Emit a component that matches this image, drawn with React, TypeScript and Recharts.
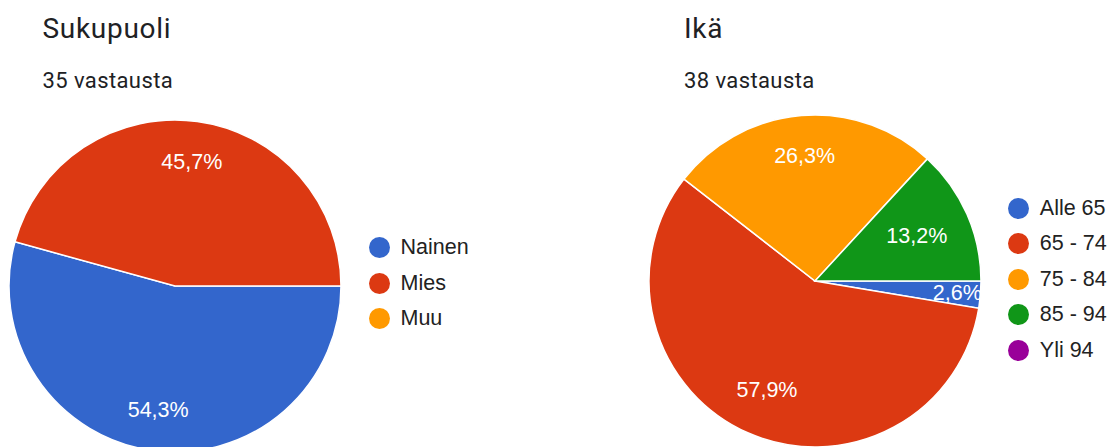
import React from "react";
import { PieChart, Pie, Cell, Legend } from "recharts";

// Sukupuoli (35 vastausta)
const genderNames = ["Nainen", "Mies", "Muu"];
const genderCounts = [19, 16, 0];
const genderColors = ["#3366cc", "#dc3912", "#ff9900"];

// Ikä (38 vastausta)
const ageNames = ["Alle 65", "65 - 74", "75 - 84", "85 - 94", "Yli 94"];
const ageCounts = [1, 22, 10, 5, 0];
const ageColors = ["#3366cc", "#dc3912", "#ff9900", "#109618", "#990099"];

const RAD = Math.PI / 180;
const TITLE_FONT = "Roboto, 'Noto Sans', sans-serif";
const CHART_FONT = "'Liberation Sans', Arial, sans-serif";

// google nudges labels of narrow slices in/out, default is ~3/4 radius
const labelRadius: Record<string, number> = {
  "Alle 65": 0.86,
  "65 - 74": 0.72,
  "85 - 94": 0.67,
};

const formatPercent = (p: number) => `${(p * 100).toFixed(1).replace(".", ",")}%`;

const renderSliceLabel = (props: any) => {
  const { cx, cy, midAngle, outerRadius, percent, name } = props;
  if (!percent) return null;
  const r = outerRadius * (labelRadius[name] ?? 0.755);
  const x = cx + r * Math.cos(-midAngle * RAD);
  const y = cy + r * Math.sin(-midAngle * RAD);
  return (
    <text
      x={x}
      y={y}
      fill="#ffffff"
      textAnchor="middle"
      dominantBaseline="central"
      fontFamily={CHART_FONT}
      fontSize={21.5}
    >
      {formatPercent(percent)}
    </text>
  );
};

interface LegendListProps {
  names: string[];
  colors: string[];
}

const LegendList = ({ names, colors }: LegendListProps) => (
  <div>
    {names.map((name, i) => (
      <div
        key={name}
        style={{ display: "flex", alignItems: "center", height: 35.5 }}
      >
        <span
          style={{
            width: 21,
            height: 21,
            borderRadius: "50%",
            background: colors[i],
            marginRight: 11,
            flexShrink: 0,
          }}
        />
        <span
          style={{
            fontFamily: CHART_FONT,
            fontSize: 21.5,
            color: "#222222",
            whiteSpace: "nowrap",
          }}
        >
          {name}
        </span>
      </div>
    ))}
  </div>
);

interface PiePanelProps {
  title: string;
  subtitle: string;
  names: string[];
  counts: number[];
  colors: string[];
  titleX: number;
  cx: number;
  cy: number;
  legendLeft: number;
  legendTop: number;
}

const PiePanel = ({
  title,
  subtitle,
  names,
  counts,
  colors,
  titleX,
  cx,
  cy,
  legendLeft,
  legendTop,
}: PiePanelProps) => {
  // zero answers get no slice but still show in the legend
  const data = names
    .map((name, i) => ({ name, value: counts[i], color: colors[i] }))
    .filter((d) => d.value > 0);

  return (
    <div style={{ position: "relative", width: 560, height: 447 }}>
      <div
        style={{
          position: "absolute",
          left: titleX,
          top: 14.5,
          fontFamily: TITLE_FONT,
          fontSize: 28,
          lineHeight: "28px",
          letterSpacing: 0.7,
          color: "#202124",
          whiteSpace: "nowrap",
        }}
      >
        {title}
      </div>
      <div
        style={{
          position: "absolute",
          left: titleX,
          top: 69.5,
          fontFamily: TITLE_FONT,
          fontSize: 22,
          lineHeight: "22px",
          letterSpacing: 0.4,
          color: "#202124",
          whiteSpace: "nowrap",
        }}
      >
        {subtitle}
      </div>
      <PieChart
        width={560}
        height={447}
        margin={{ top: 0, right: 0, bottom: 0, left: 0 }}
        style={{ position: "absolute", left: 0, top: 0 }}
      >
        <Pie
          data={data}
          dataKey="value"
          nameKey="name"
          cx={cx}
          cy={cy}
          outerRadius={166}
          startAngle={0}
          endAngle={-360}
          stroke="#ffffff"
          strokeWidth={1.5}
          label={renderSliceLabel}
          labelLine={false}
          isAnimationActive={false}
        >
          {data.map((d) => (
            <Cell key={d.name} fill={d.color} />
          ))}
        </Pie>
        <Legend
          content={() => <LegendList names={names} colors={colors} />}
          wrapperStyle={{
            position: "absolute",
            left: legendLeft,
            top: legendTop,
            width: "auto",
          }}
        />
      </PieChart>
    </div>
  );
};

export default function App() {
  return (
    <div
      style={{
        position: "absolute",
        left: 0,
        top: 0,
        width: 1120,
        height: 447,
        overflow: "hidden",
        background: "#ffffff",
        display: "flex",
      }}
    >
      <PiePanel
        title="Sukupuoli"
        subtitle="35 vastausta"
        names={genderNames}
        counts={genderCounts}
        colors={genderColors}
        titleX={42.5}
        cx={175}
        cy={286}
        legendLeft={368.5}
        legendTop={230}
      />
      <PiePanel
        title="Ikä"
        subtitle="38 vastausta"
        names={ageNames}
        counts={ageCounts}
        colors={ageColors}
        titleX={124}
        cx={255}
        cy={281}
        legendLeft={447.8}
        legendTop={190.5}
      />
    </div>
  );
}
